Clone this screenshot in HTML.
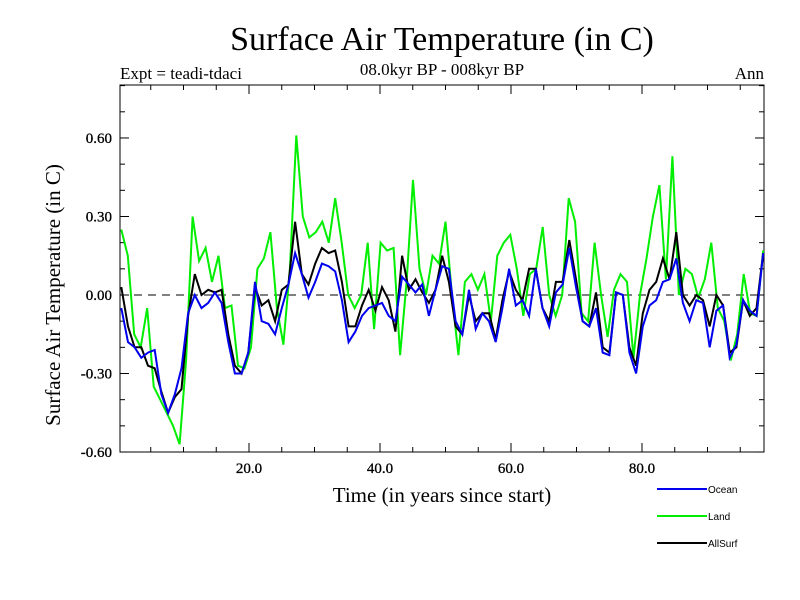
<!DOCTYPE html>
<html><head><meta charset="utf-8"><style>
body{margin:0;background:#fff}
svg{display:block}
</style></head><body>
<svg id="c" width="800" height="600" xmlns="http://www.w3.org/2000/svg" font-family="Liberation Serif, serif">
<text x="442" y="50" font-size="34" text-anchor="middle">Surface Air Temperature (in C)</text>
<text x="120" y="79" font-size="17">Expt = teadi-tdaci</text>
<text x="442" y="75" font-size="17" text-anchor="middle">08.0kyr BP - 008kyr BP</text>
<text x="764" y="79" font-size="17" text-anchor="end">Ann</text>
<text transform="translate(60,295) rotate(-90)" font-size="21" text-anchor="middle">Surface Air Temperature (in C)</text>
<text x="442" y="502" font-size="21" text-anchor="middle">Time (in years since start)</text>
<g id="axes"></g>
<g id="series"></g>
<g id="legend" font-family="Liberation Sans, sans-serif" font-size="10"></g>
</svg>
<script>
const landVals=[0.25,0.15,-0.15,-0.2,-0.05,-0.35,-0.4,-0.45,-0.5,-0.57,-0.25,0.30,0.13,0.18,0.05,0.15,-0.05,-0.04,-0.27,-0.28,-0.2,0.1,0.14,0.24,-0.05,-0.19,0.1,0.61,0.3,0.22,0.24,0.28,0.2,0.37,0.2,0.0,-0.05,0.0,0.2,-0.13,0.2,0.17,0.18,-0.23,0.05,0.44,0.1,0.0,0.15,0.12,0.28,0.0,-0.23,0.05,0.08,0.02,0.08,-0.1,0.15,0.2,0.23,0.1,-0.08,0.08,0.1,0.26,0.0,-0.08,0.0,0.37,0.28,-0.07,-0.1,0.2,0.0,-0.16,0.02,0.08,0.05,-0.24,0.0,0.14,0.3,0.42,0.06,0.53,0.0,0.1,0.08,-0.01,0.06,0.2,-0.05,-0.1,-0.25,-0.15,0.08,-0.07,-0.08,0.17];
const oceanVals=[-0.05,-0.18,-0.2,-0.24,-0.22,-0.21,-0.38,-0.45,-0.38,-0.28,-0.07,0.0,-0.05,-0.03,0.01,-0.03,-0.18,-0.3,-0.3,-0.22,0.05,-0.1,-0.11,-0.15,-0.05,0.04,0.16,0.08,-0.01,0.05,0.12,0.11,0.09,-0.02,-0.18,-0.14,-0.08,-0.05,-0.04,-0.03,-0.08,-0.1,0.07,0.04,0.01,0.04,-0.08,0.02,0.11,0.1,-0.1,-0.15,0.02,-0.13,-0.07,-0.1,-0.18,-0.05,0.1,-0.04,-0.02,-0.08,0.1,-0.05,-0.12,0.01,0.04,0.18,0.03,-0.1,-0.12,-0.05,-0.22,-0.23,0.01,0.0,-0.22,-0.3,-0.12,-0.04,-0.02,0.05,0.06,0.14,-0.03,-0.1,-0.02,-0.03,-0.2,-0.06,-0.04,-0.24,-0.19,-0.02,-0.06,-0.08,0.16];
const allVals=[0.03,-0.12,-0.2,-0.2,-0.27,-0.28,-0.37,-0.45,-0.39,-0.36,-0.08,0.08,0.0,0.02,0.01,0.02,-0.15,-0.27,-0.3,-0.22,0.03,-0.04,-0.02,-0.1,0.02,0.04,0.28,0.08,0.04,0.12,0.18,0.16,0.17,0.05,-0.12,-0.12,-0.04,0.02,-0.06,0.03,-0.02,-0.14,0.15,0.02,0.06,0.01,-0.03,0.02,0.15,0.05,-0.12,-0.15,0.0,-0.1,-0.07,-0.07,-0.17,-0.02,0.09,0.02,-0.02,0.1,0.1,-0.05,-0.1,0.05,0.05,0.21,0.06,-0.1,-0.12,0.01,-0.2,-0.22,0.01,0.0,-0.2,-0.27,-0.07,0.02,0.05,0.14,0.06,0.24,0.0,-0.04,0.0,-0.02,-0.12,0.0,-0.04,-0.22,-0.2,-0.02,-0.08,-0.05,0.16];
const yTicks=[-0.6,-0.3,0,0.3,0.6];
const yTickLabels=["-0.60","-0.30","0.00","0.30","0.60"];
const xTicks=[20,40,60,80];
const xTickLabels=["20.0","40.0","60.0","80.0"];
const seriesNames=["Ocean","Land","AllSurf"];

const NS="http://www.w3.org/2000/svg";
const L=120,R=764,T=85,B=452;
const xs=t=>118+6.55*t;
const ys=v=>295-v*261.7;
function mk(tag,attrs,parent){const e=document.createElementNS(NS,tag);for(const k in attrs)e.setAttribute(k,attrs[k]);parent.appendChild(e);return e;}
const ax=document.getElementById('axes');
const frame=mk('rect',{x:L,y:T,width:R-L,height:B-T,fill:'none',stroke:'#000','stroke-width':1},ax);


for(let v=-0.6;v<=0.801;v+=0.1){
  const y=ys(v);const major=Math.abs(Math.round(v*10)%3)===0;const len=major?9:5;
  const t1=mk('line',{x1:L,x2:L+len,y1:y,y2:y,stroke:'#000'},ax);
  
  
  const t2=mk('line',{x1:R-len,x2:R,y1:y,y2:y,stroke:'#000'},ax);
  
  
}
for(let t=5;t<98;t+=5){
  const x=xs(t);const len=(t%20===0)?9:5;
  const t1=mk('line',{x1:x,x2:x,y1:B,y2:B-len,stroke:'#000'},ax);
  
  
  const t2=mk('line',{x1:x,x2:x,y1:T,y2:T+len,stroke:'#000'},ax);
  
  
}
yTicks.forEach((v,i)=>{const e=mk('text',{x:112,y:ys(v)+5,'font-size':15,'text-anchor':'end','stroke':'#000','stroke-width':0.3},ax);e.textContent=yTickLabels[i];
  
  });
xTicks.forEach((v,i)=>{const e=mk('text',{x:xs(v),y:473,'font-size':15,'text-anchor':'middle','stroke':'#000','stroke-width':0.3},ax);e.textContent=xTickLabels[i];
  
  });
const zl=mk('line',{x1:L,x2:R,y1:ys(0),y2:ys(0),stroke:'#000','stroke-dasharray':'8,6'},ax);


const sg=document.getElementById('series');
function draw(vals,color,name){
  const n=vals.length;const step=98/(n-1);
  const pts=vals.map((v,i)=>xs(0.5+i*step).toFixed(1)+','+ys(v).toFixed(1)).join(' ');
  const p=mk('polyline',{points:pts,fill:'none',stroke:color,'stroke-width':2},sg);
  
  
}
draw(landVals,'#00ee00','land-line');
draw(allVals,'#000000','allsurf-line');
draw(oceanVals,'#0000ee','ocean-line');
const lg=document.getElementById('legend');
const colors=['#0000ee','#00ee00','#000000'];
seriesNames.forEach((nm,i)=>{const y=489+i*27;
  const l=mk('line',{x1:657,x2:707,y1:y,y2:y,stroke:colors[i],'stroke-width':2},lg);
  
  
  const t=mk('text',{x:708,y:y+4},lg);t.textContent=nm;
  
  
});
</script>
</body></html>
